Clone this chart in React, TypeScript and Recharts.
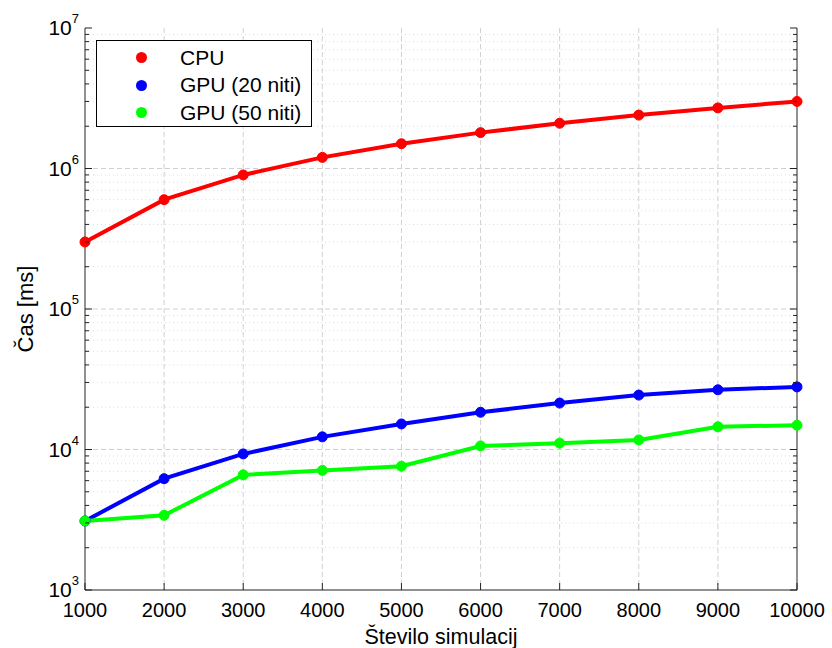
import { LineChart, Line, XAxis, YAxis, CartesianGrid, Legend } from 'recharts';

document.body.style.margin = '0';

// Število simulacij
const simulations = [1000, 2000, 3000, 4000, 5000, 6000, 7000, 8000, 9000, 10000];
// Čas [ms]
const cpuTimes = [300000, 600000, 900000, 1200000, 1500000, 1800000, 2100000, 2400000, 2700000, 3000000];
const gpu20Times = [3100, 6200, 9300, 12300, 15200, 18400, 21400, 24400, 26600, 27900];
const gpu50Times = [3100, 3400, 6600, 7100, 7600, 10600, 11100, 11700, 14500, 14900];

const majorTicks = [1000, 10000, 100000, 1000000, 10000000];
const minorTicks = [
    2000, 3000, 4000, 5000, 6000, 7000, 8000, 9000,
    20000, 30000, 40000, 50000, 60000, 70000, 80000, 90000,
    200000, 300000, 400000, 500000, 600000, 700000, 800000, 900000,
    2000000, 3000000, 4000000, 5000000, 6000000, 7000000, 8000000, 9000000,
];
const yTicks = [...majorTicks, ...minorTicks];

const series = [
    { key: 'cpu', name: 'CPU', color: '#ff0000' },
    { key: 'gpu20', name: 'GPU (20 niti)', color: '#0000ff' },
    { key: 'gpu50', name: 'GPU (50 niti)', color: '#00ff00' },
];

const data = simulations.map((n, i) => ({
    n,
    cpu: cpuTimes[i],
    gpu20: gpu20Times[i],
    gpu50: gpu50Times[i],
}));

const FONT = '"Liberation Sans", Arial, sans-serif';
const W = 832;
const H = 648;
const LEFT = 85;
const RIGHT = 797;
const TOP = 28;
const BOTTOM = 590;
const AXIS = '#222';

const isMajor = (v: number) => majorTicks.includes(v);

const LeftTick = (props: any) => {
    const { y, payload } = props;
    const v = payload.value;
    const major = isMajor(v);
    return (
        <g>
            <line x1={LEFT} x2={LEFT + (major ? 7 : 4)} y1={y} y2={y} stroke={AXIS} />
            {major && (
                <text x={LEFT - 6} y={y + 7} textAnchor="end" fontSize={21} fontFamily={FONT} fill="#000">
                    10
                    <tspan dy={-12} fontSize={13}>{Math.round(Math.log10(v))}</tspan>
                </text>
            )}
        </g>
    );
};

const RightTick = (props: any) => {
    const { y, payload } = props;
    const major = isMajor(payload.value);
    return <line x1={RIGHT} x2={RIGHT - (major ? 7 : 4)} y1={y} y2={y} stroke={AXIS} />;
};

const BottomTick = (props: any) => {
    const { x, payload } = props;
    return (
        <g>
            <line x1={x} x2={x} y1={BOTTOM} y2={BOTTOM - 7} stroke={AXIS} />
            <text x={x} y={BOTTOM + 27} textAnchor="middle" fontSize={20} fontFamily={FONT} fill="#000">
                {payload.value}
            </text>
        </g>
    );
};

const TopTick = (props: any) => {
    const { x } = props;
    return <line x1={x} x2={x} y1={TOP} y2={TOP + 7} stroke={AXIS} />;
};

const LegendBox = () => (
    <div
        style={{
            width: 216,
            height: 87,
            border: '1px solid #000',
            background: '#fff',
            fontFamily: FONT,
            fontSize: 21,
            boxSizing: 'border-box',
            paddingTop: 3,
        }}
    >
        {series.map((s) => (
            <div key={s.key} style={{ display: 'flex', alignItems: 'center', height: 27.5 }}>
                <span
                    style={{
                        display: 'inline-block',
                        width: 11,
                        height: 11,
                        borderRadius: '50%',
                        background: s.color,
                        marginLeft: 39,
                        marginRight: 33,
                    }}
                />
                <span>{s.name}</span>
            </div>
        ))}
    </div>
);

export default function App() {
    return (
        <LineChart width={W} height={H} data={data} margin={{ top: TOP, right: 0, left: 0, bottom: 0 }}>
            <CartesianGrid
                horizontalValues={minorTicks}
                vertical={false}
                stroke="#dcdcdc"
                strokeDasharray="1 3"
            />
            <CartesianGrid
                horizontalValues={[10000, 100000, 1000000]}
                verticalValues={simulations.slice(1, -1)}
                stroke="#d0d0d0"
                strokeDasharray="5 3"
            />
            <XAxis
                dataKey="n"
                type="number"
                domain={[1000, 10000]}
                ticks={simulations}
                height={H - BOTTOM}
                tick={BottomTick}
                tickLine={false}
                axisLine={{ stroke: AXIS }}
                label={{
                    content: () => (
                        <text x={(LEFT + RIGHT) / 2} y={644} textAnchor="middle" fontSize={21.5} fontFamily={FONT} fill="#000">
                            Število simulacij
                        </text>
                    ),
                }}
            />
            <XAxis
                xAxisId="top"
                orientation="top"
                type="number"
                domain={[1000, 10000]}
                ticks={simulations}
                height={0}
                tick={TopTick}
                tickLine={false}
                axisLine={{ stroke: AXIS }}
            />
            <YAxis
                scale="log"
                type="number"
                domain={[1000, 10000000]}
                allowDataOverflow
                ticks={yTicks}
                interval={0}
                width={LEFT}
                tick={LeftTick}
                tickLine={false}
                axisLine={{ stroke: AXIS }}
                label={{
                    content: () => (
                        <text
                            x={33}
                            y={(TOP + BOTTOM) / 2}
                            transform={`rotate(-90 33 ${(TOP + BOTTOM) / 2})`}
                            textAnchor="middle"
                            fontSize={22}
                            fontFamily={FONT}
                            fill="#000"
                        >
                            Čas [ms]
                        </text>
                    ),
                }}
            />
            <YAxis
                yAxisId="right"
                orientation="right"
                scale="log"
                type="number"
                domain={[1000, 10000000]}
                allowDataOverflow
                ticks={yTicks}
                interval={0}
                width={W - RIGHT}
                tick={RightTick}
                tickLine={false}
                axisLine={{ stroke: AXIS }}
            />
            <Legend
                layout="vertical"
                align="center"
                verticalAlign="middle"
                content={() => <LegendBox />}
                wrapperStyle={{ position: 'absolute', left: 96, top: 40, width: 216 }}
            />
            {series.map((s) => (
                <Line
                    key={s.key}
                    type="linear"
                    dataKey={s.key}
                    name={s.name}
                    stroke={s.color}
                    strokeWidth={4}
                    dot={{ r: 5, fill: s.color, stroke: s.color, strokeWidth: 1 }}
                    isAnimationActive={false}
                />
            ))}
        </LineChart>
    );
}
